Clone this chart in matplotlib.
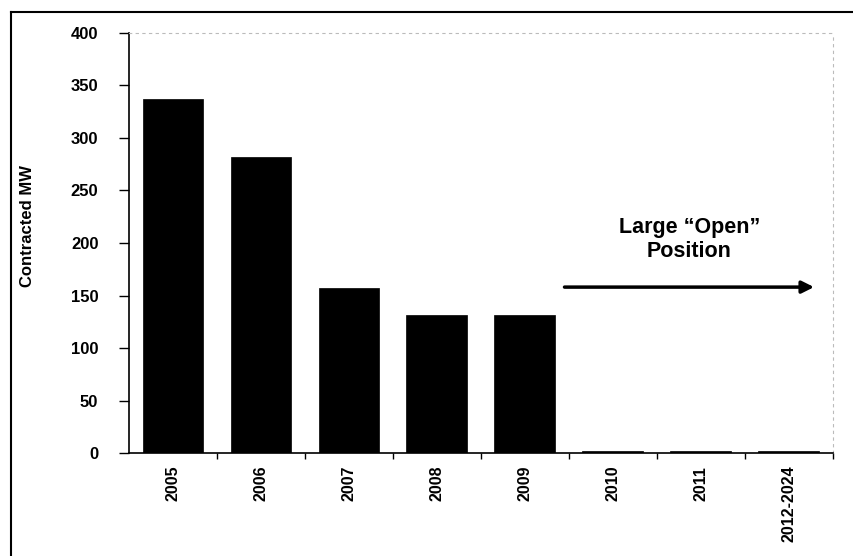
import matplotlib
matplotlib.use("Agg")
import matplotlib.pyplot as plt
from matplotlib.lines import Line2D

plt.rcParams['font.family'] = ['Liberation Sans', 'DejaVu Sans']
plt.rcParams['font.weight'] = 'bold'

# data
categories = ["2005", "2006", "2007", "2008", "2009", "2010", "2011", "2012-2024"]
contracted_mw = [337, 282, 157, 131, 131, 2, 2, 2]
y_ticks = [0, 50, 100, 150, 200, 250, 300, 350, 400]

fig = plt.figure(figsize=(8.54, 5.56), dpi=100)
ax = fig.add_axes([0.151, 0.185, 0.824, 0.756])

x = list(range(len(categories)))
ax.bar(x, contracted_mw, width=0.69, color="black", edgecolor="black", linewidth=0.5)

ax.set_xlim(-0.5, len(categories) - 0.5)
ax.set_ylim(0, 400)
ax.set_yticks(y_ticks)
ax.set_yticklabels([str(v) for v in y_ticks], fontsize=12, fontweight="bold")
ax.tick_params(axis="y", direction="out", length=7, width=1, pad=15)

# ticks sit between the bars, labels at bar centres
ax.set_xticks([i + 0.5 for i in x[:-1]] + [len(categories) - 0.5])
ax.set_xticklabels([])
ax.tick_params(axis="x", which="major", direction="out", length=4, width=1)
ax.set_xticks(x, minor=True)
ax.set_xticklabels(categories, minor=True, rotation=90, fontsize=11.5, fontweight="bold")
ax.tick_params(axis="x", which="minor", length=0, pad=9)

ax.set_ylabel("Contracted MW", fontsize=12, fontweight="bold")
ax.yaxis.set_label_coords(-0.134, 0.54)

for side in ["left", "bottom"]:
    ax.spines[side].set_linewidth(1.2)
for side in ["top", "right"]:
    ax.spines[side].set_color("#bbbbbb")
    ax.spines[side].set_linestyle((0, (2, 4)))
    ax.spines[side].set_linewidth(0.8)

# open position note and arrow
ax.annotate("", xy=(7.32, 158), xytext=(4.42, 158),
            arrowprops=dict(arrowstyle="-|>", lw=2.5, color="black", mutation_scale=18))
ax.text(5.87, 203, "Large \u201cOpen\u201d\nPosition", ha="center", va="center",
        fontsize=15.5, fontweight="bold", linespacing=1.2)

# page frame (left and top edges)
fig.add_artist(Line2D([0.0129, 0.0129], [0.0, 0.978], color="black", lw=1.5))
fig.add_artist(Line2D([0.0129, 1.0], [0.978, 0.978], color="black", lw=1.5))

fig.savefig("out.png", dpi=100)
